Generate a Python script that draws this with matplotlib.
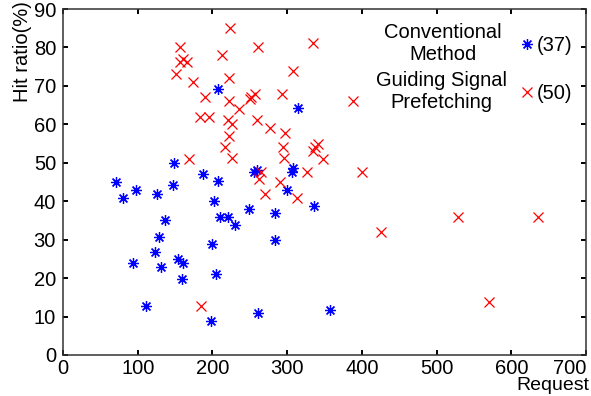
import matplotlib
matplotlib.use("Agg")
import matplotlib.pyplot as plt
from matplotlib.lines import Line2D

plt.rcParams['font.family'] = ['Liberation Sans', 'DejaVu Sans']

# Conventional Method (blue asterisks)
conv_x = [71.6, 80.6, 97.6, 94, 110.6, 123.2, 126.3, 128.6, 130.8, 136.6,
          146.9, 148.7, 154.5, 161.2, 159, 188, 198.4, 200, 202.5, 205,
          208, 208, 210.5, 220.8, 229.7, 248.6, 255, 260, 261, 283.5,
          283.5, 300, 306.7, 308, 314.8, 336, 358]
conv_y = [44.9, 40.8, 43, 23.9, 12.8, 26.9, 42, 30.8, 22.8, 35,
          44.1, 49.9, 24.9, 23.9, 19.8, 47, 8.9, 29, 40, 21,
          45.3, 69.2, 35.8, 35.8, 33.9, 38, 47.7, 48, 10.9, 36.9,
          30, 43, 47.7, 48.6, 64.2, 38.8, 11.7]

# Guiding Signal Prefetching (red crosses)
gsp_x = [224, 156, 212.7, 261, 157, 166, 160, 151, 173.7, 222,
         189.4, 222, 235.6, 252, 257.5, 250, 183.6, 196, 221.5, 226.6,
         221.7, 216.5, 226.5, 168.4, 259, 334.5, 307.7, 293.5, 388, 277.5,
         296.5, 295.1, 341, 335, 337, 295.6, 348.6, 400.8, 326.5, 265,
         262.5, 291, 271, 312.8, 425.5, 185, 528.4, 636, 570]
gsp_y = [85.1, 80, 78, 80, 76.2, 76.2, 77, 73.2, 71, 72,
         67, 66, 64, 67, 68, 66.5, 62, 62, 61, 60,
         57, 54, 51.2, 51, 61, 81.2, 74, 68, 66, 59,
         57.8, 54.1, 55, 53, 54, 51.3, 51, 47.7, 47.7, 47.7,
         45.7, 45, 42, 40.8, 32, 12.8, 35.8, 35.8, 13.7]

xticks = [0, 100, 200, 300, 400, 500, 600, 700]
yticks = [0, 10, 20, 30, 40, 50, 60, 70, 80, 90]
count_labels = ["(37)", "(50)"]
series_names = ["Conventional\nMethod", "Guiding Signal\nPrefetching"]

FS = 14.5
W, H = 591, 396
fig = plt.figure(figsize=(W / 100, H / 100), dpi=100)
ax = fig.add_axes([63 / W, 1 - 355 / H, (586 - 63) / W, (355 - 9) / H])

asterisk = (8, 2, 0)
ax.plot(conv_x, conv_y, linestyle='none', marker=asterisk, markersize=7.8,
        markeredgecolor='blue', markerfacecolor='none', markeredgewidth=0.9,
        color='blue')
ax.plot(gsp_x, gsp_y, linestyle='none', marker='x', markersize=7,
        markeredgecolor='red', markeredgewidth=0.9, color='red')

ax.set_xlim(0, 700)
ax.set_ylim(0, 90)
ax.set_xticks(xticks)
ax.set_yticks(yticks)
ax.tick_params(direction='in', length=3.5, width=1.4, top=True, right=True,
               labelsize=FS, colors='black')
ax.tick_params(axis='x', pad=3)
ax.tick_params(axis='y', pad=5)
for s in ax.spines.values():
    s.set_linewidth(1.1)
    s.set_color('#333333')
fig.canvas.draw()
ax.get_xticklabels()[-1].set_horizontalalignment('right')
ax.get_xticklabels()[-1].set_x(700)

h1 = Line2D([], [], linestyle='none', marker=asterisk, markersize=7.8,
            markeredgecolor='blue', markerfacecolor='none', markeredgewidth=0.9)
h2 = Line2D([], [], linestyle='none', marker='x', markersize=7,
            markeredgecolor='red', markeredgewidth=0.9)
leg = ax.legend([h1, h2], count_labels, loc='upper left',
                bbox_to_anchor=(519 / W, 1 - 36 / H), bbox_transform=fig.transFigure,
                frameon=False, fontsize=FS, labelspacing=1.45,
                handlelength=0.8, handletextpad=0.1, borderpad=0, borderaxespad=0)

fig.text(443 / W, 1 - 43.5 / H, series_names[0], ha='center', va='center',
         fontsize=FS, linespacing=1.2)
fig.text(441 / W, 1 - 91 / H, series_names[1], ha='center', va='center',
         fontsize=FS, linespacing=1.2)

fig.text(23 / W, 1 - 1 / H, "Hit ratio(%)", rotation=90, ha='center', va='top',
         fontsize=FS)
fig.text(589 / W, 1 - 394 / H, "Request", ha='right', va='bottom', fontsize=14)

fig.savefig("out.png", dpi=100)
